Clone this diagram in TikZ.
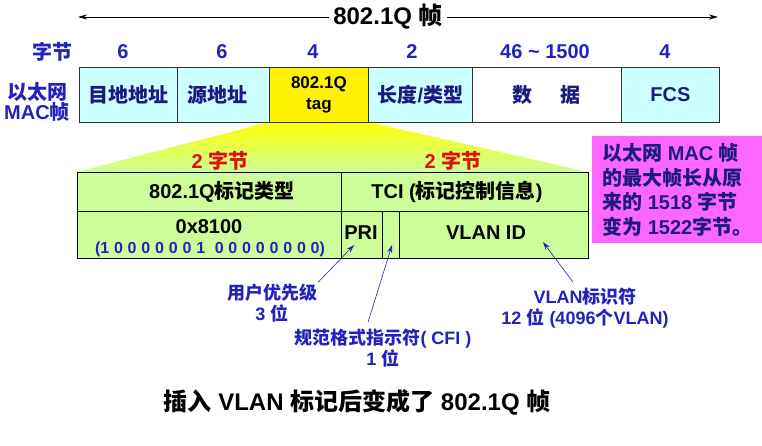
\documentclass[tikz,border=0pt]{standalone}
\usepackage{fontspec}
\setmainfont{Liberation Sans}
\newfontfamily\cjk{Noto Sans CJK SC}
\usetikzlibrary{arrows.meta}
\newcommand\ZH[1]{{\cjk #1}}
\definecolor{cyanbox}{RGB}{204,255,255}
\definecolor{greenbox}{RGB}{204,255,153}
\definecolor{magbox}{RGB}{255,102,255}
\definecolor{lblue}{RGB}{34,34,190}
\definecolor{navy}{RGB}{26,26,128}
\definecolor{redtxt}{RGB}{221,17,17}
\begin{document}
\begin{tikzpicture}[x=1pt,y=-1pt,
  fbig/.style={font=\fontsize{24pt}{24pt}\selectfont\bfseries},
  ftw/.style={font=\fontsize{20pt}{20pt}\selectfont\bfseries},
  fann/.style={font=\fontsize{18pt}{21pt}\selectfont\bfseries, text=lblue, align=center, inner sep=0pt},
  topbox/.style={draw=black!80, line width=0.8pt, anchor=north west, minimum height=55pt, inner sep=0pt, text=navy, ftw, align=center},
  cell/.style={draw=black, line width=1.1pt, fill=greenbox, anchor=north west, inner sep=0pt},
  celltxt/.style={ftw, text=black, inner sep=0pt},
  lbl/.style={ftw, text=lblue, inner sep=0pt},
  annarrow/.style={draw=lblue, line width=0.6pt, -{Stealth[length=8pt,width=5pt]}},
  dimarrow/.style={draw=black, line width=0.7pt, -{Stealth[length=9pt,width=5pt]}}
]
\useasboundingbox (0,0) rectangle (762,446);
\fill[white] (0,0) rectangle (762,446);

% title with double arrow
\node[fbig, text=black, inner sep=4pt] (title) at (388,17) {802.1Q \ZH{帧}};
\coordinate (arrL) at (78,17);
\coordinate (arrR) at (718,17);
\draw[dimarrow] (title.west) -- (arrL);
\draw[dimarrow] (title.east) -- (arrR);

% byte counts
\node[lbl] (bytes) at (52,52) {\ZH{字节}};
\node[lbl] (n1) at (123,52) {6};
\node[lbl] (n2) at (222,52) {6};
\node[lbl] (n3) at (313,52) {4};
\node[lbl] (n4) at (412,52) {2};
\node[lbl] (n5) at (545,52) {46 {\char"7E} 1500};
\node[lbl] (n6) at (665,52) {4};

% left label
\node[ftw, text=lblue, align=center, inner sep=0pt] (maclbl) at (37,102) {\ZH{以太网}\\MAC\ZH{帧}};

% funnel
\shade[top color=yellow, bottom color=greenbox] (269,122) -- (368,122) -- (588,172) -- (77,172) -- cycle;

% top row
\node[topbox, fill=cyanbox, minimum width=98pt] (b1) at (79,67) {\ZH{目地地址}};
\node[topbox, fill=cyanbox, minimum width=92pt] (b2) at (177,67) {\ZH{源地址}\hspace*{12pt}};
\node[topbox, fill=yellow, minimum width=99pt, text=black, font=\fontsize{17pt}{21pt}\selectfont\bfseries] (b3) at (269,67) {802.1Q\\tag};
\node[topbox, fill=cyanbox, minimum width=104pt] (b4) at (368,67) {\ZH{长度}/\ZH{类型}};
\node[topbox, fill=white, minimum width=149pt] (b5) at (472,67) {\ZH{数}\hspace{28pt}\ZH{据}};
\node[topbox, fill=cyanbox, minimum width=98pt] (b6) at (621,67) {FCS};

% red byte labels
\node[ftw, text=redtxt, inner sep=0pt] (r1) at (220,161) {2 \ZH{字节}};
\node[ftw, text=redtxt, inner sep=0pt] (r2) at (453,161) {2 \ZH{字节}};

% tag detail cells
\node[cell, minimum width=264pt, minimum height=39pt] (ctype) at (77,172) {};
\node[cell, minimum width=247pt, minimum height=39pt] (ctci) at (341,172) {};
\node[cell, minimum width=264pt, minimum height=47pt] (cval) at (77,211) {};
\node[cell, minimum width=41pt, minimum height=47pt] (cpri) at (341,211) {};
\node[cell, minimum width=17pt, minimum height=47pt] (ccfi) at (382,211) {};
\node[cell, minimum width=189pt, minimum height=47pt] (cvid) at (399,211) {};

\node[celltxt] (ttype) at (222,192) {802.1Q\ZH{标记类型}};
\node[celltxt] (ttci) at (457,192) {TCI (\ZH{标记控制信息})};
\node[celltxt] (tval) at (209,227) {0x8100};
\node[font=\fontsize{16pt}{16pt}\selectfont\bfseries, text=lblue, inner sep=0pt] (tbin) at (210,249)
  {\makebox[230pt][s]{(1 0 0 0 0 0 0 1 \ 0 0 0 0 0 0 0 0)}};
\node[celltxt] (tpri) at (361,233) {PRI};
\node[celltxt] (tvid) at (486,233) {VLAN ID};

% note box
\node[fill=magbox, anchor=north west, minimum width=170pt, minimum height=107pt, inner sep=0pt] (note) at (592,136) {};
\node[font=\fontsize{20pt}{24.5pt}\selectfont\bfseries, text=navy, align=left, anchor=west, inner sep=0pt] (notetxt) at (602,190)
  {\ZH{以太网} MAC \ZH{帧}\\\ZH{的最大帧长从原}\\\ZH{来的} 1518 \ZH{字节}\\\ZH{变为} 1522\ZH{字节。}};

% annotations
\node[fann] (lpri) at (272,303.5) {\ZH{用户优先级}\\3 \ZH{位}};
\node[fann] (lcfi) at (383,348.5) {\ZH{规范格式指示符}( CFI )\\1 \ZH{位}};
\node[fann] (lvid) at (585,308.5) {VLAN\ZH{标识符}\\12 \ZH{位} (4096\ZH{个}VLAN)};
\coordinate (priTip) at (354,245);
\coordinate (cfiTip) at (392,245);
\coordinate (vidTip) at (543,242);
\draw[annarrow] ([xshift=1pt,yshift=2pt]lpri.north east) -- (priTip);
\draw[annarrow] ([xshift=-15pt,yshift=7pt]lcfi.north) -- (cfiTip);
\draw[annarrow] ([xshift=-12pt,yshift=6pt]lvid.north) -- (vidTip);

% caption
\node[fbig, text=black, inner sep=0pt] (caption) at (357,402) {\ZH{插入} VLAN \ZH{标记后变成了} 802.1Q \ZH{帧}};
\end{tikzpicture}
\end{document}
